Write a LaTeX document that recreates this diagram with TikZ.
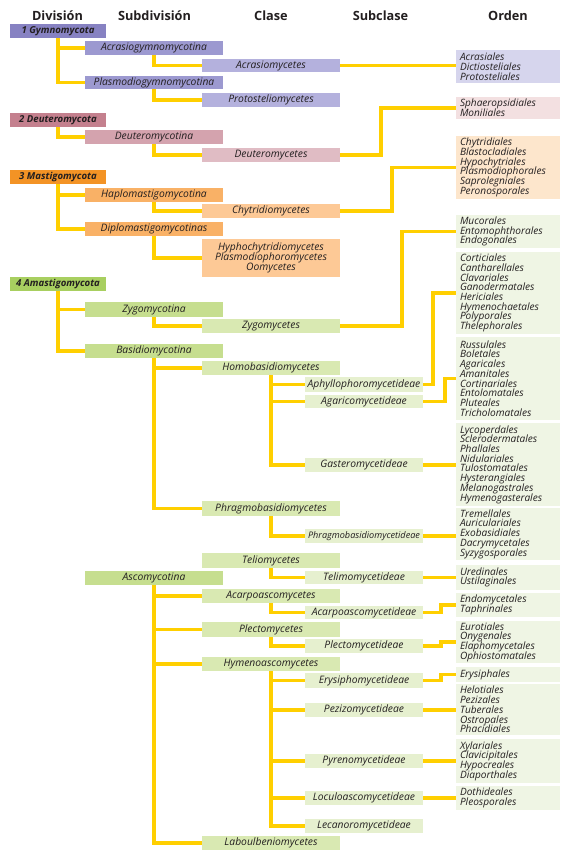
\documentclass[tikz,border=0pt]{standalone}
\usepackage{fontspec}
\setmainfont{Open Sans}
\usetikzlibrary{backgrounds}
\definecolor{lnk}{HTML}{FFCF00}
\definecolor{txt}{HTML}{231F20}
\definecolor{gA}{HTML}{8782C2}\definecolor{gB}{HTML}{9C99D0}\definecolor{gC}{HTML}{B4B1DD}\definecolor{gD}{HTML}{D6D5ED}
\definecolor{dA}{HTML}{C4808E}\definecolor{dB}{HTML}{D4A3AE}\definecolor{dC}{HTML}{E0BCC4}\definecolor{dD}{HTML}{F3E0E1}
\definecolor{mA}{HTML}{F39325}\definecolor{mB}{HTML}{F9B166}\definecolor{mC}{HTML}{FDC996}\definecolor{mD}{HTML}{FDE6CC}
\definecolor{aA}{HTML}{A8CF60}\definecolor{aB}{HTML}{C6DE8F}\definecolor{aC}{HTML}{D9E9B2}\definecolor{aS}{HTML}{E6F0CF}\definecolor{aD}{HTML}{EFF5E4}
\newcommand\tightlines{\lineskiplimit=-20pt\lineskip=0pt}
\newlength\tmpw
\newcommand\calib[4]{\settowidth\tmpw{\fontsize{10}{12}\selectfont#2#3}\pgfmathsetmacro#1{10*#4*0.75/\tmpw}}
\tikzset{
  box/.style={inner sep=0pt, outer sep=0pt, font=\fontsize{\fsbox}{7.3}\selectfont\tightlines\itshape, text=txt, anchor=center},
  divbox/.style={font=\fontsize{\fsdiv}{7.3}\selectfont\bfseries\itshape},
  ordbox/.style={align=left, font=\fontsize{\fsord}{7.3}\selectfont\tightlines\itshape},
  link/.style={draw=lnk, line width=2.4pt, line join=miter},
  hdr/.style={font=\fontsize{\fshdr}{10}\selectfont\bfseries, text=txt, inner sep=0pt}
}
\newcommand\mybox[8][]{\node[box,fill=#3,minimum width={(#6-#4)*0.75pt},minimum height={(#7-#5)*0.75pt},#1] (#2) at ({(#4+#6)/2},{(#5+#7)/2}) {#8};}
\newcommand\myord[7]{\mybox[ordbox,text width={(#5-#3-8)*0.75pt}]{#1}{#2}{#3}{#4}{#5}{#6}{#7}}
\begin{document}
\calib{\fsbox}{\itshape}{Acrasiogymnomycotina}{106}%
\calib{\fsord}{\itshape}{Hymenochaetales}{79}%
\calib{\fsdiv}{\bfseries\itshape}{1 Gymnomycota}{73}%
\calib{\fshdr}{\bfseries}{Subdivisión}{73}%
\calib{\fsph}{\itshape}{Phragmobasidiomycetideae}{112}%
\begin{tikzpicture}[x=0.75pt,y=-0.75pt]
\useasboundingbox (0,0) rectangle (575,860);
% headers
\node[hdr] (h1) at (57.5,16) {División};
\node[hdr] (h2) at (154.5,16) {Subdivisión};
\node[hdr] (h3) at (271,16) {Clase};
\node[hdr] (h4) at (380.5,16) {Subclase};
\node[hdr] (h5) at (508,16) {Orden};
% divisions
\mybox[divbox]{d1}{gA}{10}{24}{106}{38}{1 Gymnomycota}
\mybox[divbox]{d2}{dA}{10}{113}{106}{127}{2 Deuteromycota}
\mybox[divbox]{d3}{mA}{10}{170}{106}{184}{3 Mastigomycota}
\mybox[divbox]{d4}{aA}{10}{277}{106}{291}{4 Amastigomycota}
% subdivisions
\mybox{s11}{gB}{85}{41}{223}{55}{Acrasiogymnomycotina}
\mybox{s12}{gB}{85}{76}{223}{89}{Plasmodiogymnomycotina}
\mybox{s21}{dB}{85}{130}{223}{144}{Deuteromycotina}
\mybox{s31}{mB}{85}{188}{223}{202}{Haplomastigomycotina}
\mybox{s32}{mB}{85}{222}{223}{236}{Diplomastigomycotinas}
\mybox{s41}{aB}{85}{302}{223}{317}{Zygomycotina}
\mybox{s42}{aB}{85}{344}{223}{358}{Basidiomycotina}
\mybox{s43}{aB}{85}{571}{223}{585}{Ascomycotina}
% classes
\mybox{c11}{gC}{202}{59}{340}{72}{Acrasiomycetes}
\mybox{c12}{gC}{202}{93}{340}{107}{Protosteliomycetes}
\mybox{c21}{dC}{202}{148}{340}{162}{Deuteromycetes}
\mybox{c31}{mC}{202}{204}{340}{218}{Chytridiomycetes}
\mybox[align=center]{c32}{mC}{202}{239}{340}{277}{Hyphochytridiomycetes\\Plasmodiophoromycetes\\Oomycetes}
\mybox{c41}{aC}{202}{319}{340}{333}{Zygomycetes}
\mybox{c42}{aC}{202}{361}{340}{375}{Homobasidiomycetes}
\mybox{c43}{aC}{202}{501}{340}{516}{Phragmobasidiomycetes}
\mybox{c44}{aC}{202}{553}{340}{568}{Teliomycetes}
\mybox{c45}{aC}{202}{589}{340}{603}{Acarpoascomycetes}
\mybox{c46}{aC}{202}{622}{340}{637}{Plectomycetes}
\mybox{c47}{aC}{202}{657}{340}{671}{Hymenoascomycetes}
\mybox{c48}{aC}{202}{836}{340}{850}{Laboulbeniomycetes}
% subclasses
\mybox{sc1}{aS}{305}{377}{423}{392}{Aphyllophoromycetideae}
\mybox{sc2}{aS}{305}{395}{423}{408}{Agaricomycetideae}
\mybox{sc3}{aS}{305}{458}{423}{472}{Gasteromycetideae}
\mybox[font=\fontsize{\fsph}{7}\selectfont\itshape]{sc4}{aS}{305}{529}{423}{543}{Phragmobasidiomycetideae}
\mybox{sc5}{aS}{305}{571}{423}{584}{Telimomycetideae}
\mybox{sc6}{aS}{305}{606}{423}{619}{Acarpoascomycetideae}
\mybox{sc7}{aS}{305}{639}{423}{653}{Plectomycetideae}
\mybox{sc8}{aS}{305}{673}{423}{688}{Erysiphomycetideae}
\mybox{sc9}{aS}{305}{703}{423}{717}{Pezizomycetideae}
\mybox{sc10}{aS}{305}{754}{423}{768}{Pyrenomycetideae}
\mybox{sc11}{aS}{305}{791}{423}{805}{Loculoascomycetideae}
\mybox{sc12}{aS}{305}{819}{423}{833}{Lecanoromycetideae}
% orders
\myord{o1}{gD}{456}{50}{560}{83}{Acrasiales\\Dictiosteliales\\Protosteliales}
\myord{o2}{dD}{456}{97}{560}{119}{Sphaeropsidiales\\Moniliales}
\myord{o3}{mD}{456}{136}{560}{199}{Chytridiales\\Blastocladiales\\Hypochytriales\\Plasmodiophorales\\Saprolegniales\\Peronosporales}
\myord{o4}{aD}{456}{215}{560}{248}{Mucorales\\Entomophthorales\\Endogonales}
\myord{o5}{aD}{456}{252}{560}{334}{Corticiales\\Cantharellales\\Clavariales\\Ganodermatales\\Hericiales\\Hymenochaetales\\Polyporales\\Thelephorales}
\myord{o6}{aD}{456}{337}{560}{420}{Russulales\\Boletales\\Agaricales\\Amanitales\\Cortinariales\\Entolomatales\\Pluteales\\Tricholomatales}
\myord{o7}{aD}{456}{423}{560}{506}{Lycoperdales\\Sclerodermatales\\Phallales\\Nidulariales\\Tulostomatales\\Hysterangiales\\Melanogastrales\\Hymenogasterales}
\myord{o8}{aD}{456}{508}{560}{560}{Tremellales\\Auriculariales\\Exobasidiales\\Dacrymycetales\\Syzygosporales}
\myord{o9}{aD}{456}{565}{560}{590}{Uredinales\\Ustilaginales}
\myord{o10}{aD}{456}{593}{560}{617}{Endomycetales\\Taphrinales}
\myord{o11}{aD}{456}{621}{560}{663}{Eurotiales\\Onygenales\\Elaphomycetales\\Ophiostomatales}
\myord{o12}{aD}{456}{667}{560}{682}{Erysiphales}
\myord{o13}{aD}{456}{684}{560}{735}{Helotiales\\Pezizales\\Tuberales\\Ostropales\\Phacidiales}
\myord{o14}{aD}{456}{739}{560}{783}{Xylariales\\Clavicipitales\\Hypocreales\\Diaporthales}
\myord{o15}{aD}{456}{786}{560}{810}{Dothideales\\Pleosporales}
% connectors
\begin{scope}[on background layer]
\draw[link] (d1.south) |- (s11.west);
\draw[link] (d1.south) |- (s12.west);
\draw[link] (s11.south) |- (c11.west);
\draw[link] (s12.south) |- (c12.west);
\draw[link] (c11.east) -- (c11.east -| o1.west);
\draw[link] (d2.south) |- (s21.west);
\draw[link] (s21.south) |- (c21.west);
\draw[link] (c21.east) -- ++(41,0) |- (o2.west);
\draw[link] (d3.south) |- (s31.west);
\draw[link] (d3.south) |- (s32.west);
\draw[link] (s31.south) |- (c31.west);
\draw[link] (s32.south) |- (c32.west);
\draw[link] (c31.east) -- ++(52,0) |- (o3.west);
\draw[link] (d4.south) |- (s41.west);
\draw[link] (d4.south) |- (s42.west);
\draw[link] (s41.south) |- (c41.west);
\draw[link] (c41.east) -- ++(62,0) |- (o4.west);
\draw[link] (s42.south) |- (c42.west);
\draw[link] (s42.south) |- (c43.west);
\draw[link] (c42.south) |- (sc1.west);
\draw[link] (c42.south) |- (sc2.west);
\draw[link] (c42.south) |- (sc3.west);
\draw[link] (sc1.east) -- ++(10,0) |- (o5.west);
\draw[link] (sc2.east) -- ++(22,0) |- (o6.west);
\draw[link] (sc3.east) -- (sc3.east -| o7.west);
\draw[link] (c43.south) |- (sc4.west);
\draw[link] (sc4.east) -- (sc4.east -| o8.west);
\draw[link] (c44.south) |- (sc5.west);
\draw[link] (sc5.east) -- (sc5.east -| o9.west);
\draw[link] (s43.south) |- (c45.west);
\draw[link] (s43.south) |- (c46.west);
\draw[link] (s43.south) |- (c47.west);
\draw[link] (s43.south) |- (c48.west);
\draw[link] (c45.south) |- (sc6.west);
\draw[link] (sc6.east) -- ++(18,0) |- (o10.west);
\draw[link] (c46.south) |- (sc7.west);
\draw[link] (sc7.east) -- ++(18,0) |- (o11.west);
\draw[link] (c47.south) |- (sc8.west);
\draw[link] (c47.south) |- (sc9.west);
\draw[link] (c47.south) |- (sc10.west);
\draw[link] (c47.south) |- (sc11.west);
\draw[link] (c47.south) |- (sc12.west);
\draw[link] (sc8.east) -- ++(18,0) |- (o12.west);
\draw[link] (sc9.east) -- (sc9.east -| o13.west);
\draw[link] (sc10.east) -- (sc10.east -| o14.west);
\draw[link] (sc11.east) -- (sc11.east -| o15.west);
\end{scope}
\end{tikzpicture}
\end{document}
